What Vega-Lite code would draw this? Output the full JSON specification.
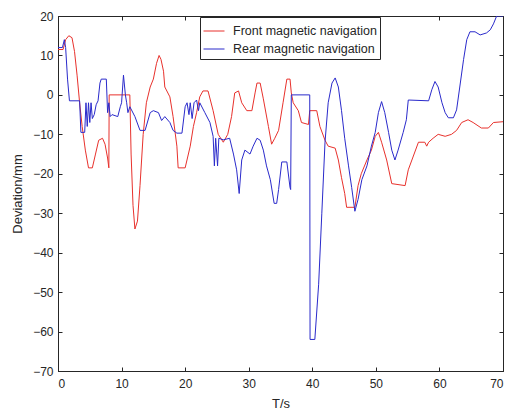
{
  "$schema": "https://vega.github.io/schema/vega-lite/v6.json",
  "width": 445,
  "height": 355,
  "autosize": {"type": "none"},
  "padding": {"left": 58, "top": 16, "right": 7, "bottom": 44},
  "background": "white",
  "config": {
    "view": {"stroke": "#262626", "strokeWidth": 1},
    "font": "Liberation Sans",
    "axis": {
      "grid": false,
      "domainColor": "#262626",
      "tickColor": "#262626",
      "labelColor": "#262626",
      "titleColor": "#262626",
      "labelFont": "Liberation Sans",
      "titleFont": "Liberation Sans",
      "labelFontSize": 12,
      "titleFontSize": 13,
      "titleFontWeight": "normal",
      "tickSize": -4
    }
  },
  "datasets": {
    "curves": [
      {"t":0,"v":11.5,"s":"Front magnetic navigation"},
      {"t":0.8,"v":11.5,"s":"Front magnetic navigation"},
      {"t":1.2,"v":14,"s":"Front magnetic navigation"},
      {"t":1.7,"v":15,"s":"Front magnetic navigation"},
      {"t":2.2,"v":14.5,"s":"Front magnetic navigation"},
      {"t":2.6,"v":11,"s":"Front magnetic navigation"},
      {"t":3.0,"v":5,"s":"Front magnetic navigation"},
      {"t":3.4,"v":-2,"s":"Front magnetic navigation"},
      {"t":3.8,"v":-8,"s":"Front magnetic navigation"},
      {"t":4.3,"v":-14,"s":"Front magnetic navigation"},
      {"t":4.8,"v":-18.5,"s":"Front magnetic navigation"},
      {"t":5.4,"v":-18.5,"s":"Front magnetic navigation"},
      {"t":5.9,"v":-15,"s":"Front magnetic navigation"},
      {"t":6.4,"v":-11.5,"s":"Front magnetic navigation"},
      {"t":7.0,"v":-11,"s":"Front magnetic navigation"},
      {"t":7.4,"v":-12.5,"s":"Front magnetic navigation"},
      {"t":7.8,"v":-16,"s":"Front magnetic navigation"},
      {"t":8.0,"v":-18.5,"s":"Front magnetic navigation"},
      {"t":8.05,"v":0,"s":"Front magnetic navigation"},
      {"t":11.3,"v":0,"s":"Front magnetic navigation"},
      {"t":11.5,"v":-15,"s":"Front magnetic navigation"},
      {"t":11.8,"v":-28,"s":"Front magnetic navigation"},
      {"t":12.1,"v":-34,"s":"Front magnetic navigation"},
      {"t":12.5,"v":-32,"s":"Front magnetic navigation"},
      {"t":12.9,"v":-23,"s":"Front magnetic navigation"},
      {"t":13.4,"v":-10,"s":"Front magnetic navigation"},
      {"t":13.9,"v":-2,"s":"Front magnetic navigation"},
      {"t":14.5,"v":2,"s":"Front magnetic navigation"},
      {"t":15.0,"v":4,"s":"Front magnetic navigation"},
      {"t":15.5,"v":8,"s":"Front magnetic navigation"},
      {"t":15.9,"v":10,"s":"Front magnetic navigation"},
      {"t":16.2,"v":9,"s":"Front magnetic navigation"},
      {"t":16.6,"v":6,"s":"Front magnetic navigation"},
      {"t":16.8,"v":2,"s":"Front magnetic navigation"},
      {"t":17.6,"v":-0.5,"s":"Front magnetic navigation"},
      {"t":18.1,"v":-5.5,"s":"Front magnetic navigation"},
      {"t":18.7,"v":-13,"s":"Front magnetic navigation"},
      {"t":18.9,"v":-18.5,"s":"Front magnetic navigation"},
      {"t":20.0,"v":-18.5,"s":"Front magnetic navigation"},
      {"t":20.8,"v":-13,"s":"Front magnetic navigation"},
      {"t":21.3,"v":-8,"s":"Front magnetic navigation"},
      {"t":21.8,"v":-4.5,"s":"Front magnetic navigation"},
      {"t":22.3,"v":-0.5,"s":"Front magnetic navigation"},
      {"t":22.8,"v":1,"s":"Front magnetic navigation"},
      {"t":23.6,"v":1,"s":"Front magnetic navigation"},
      {"t":24.4,"v":-4,"s":"Front magnetic navigation"},
      {"t":25.2,"v":-10,"s":"Front magnetic navigation"},
      {"t":26.0,"v":-12,"s":"Front magnetic navigation"},
      {"t":26.7,"v":-10,"s":"Front magnetic navigation"},
      {"t":27.3,"v":-5.5,"s":"Front magnetic navigation"},
      {"t":27.8,"v":0.5,"s":"Front magnetic navigation"},
      {"t":28.4,"v":1,"s":"Front magnetic navigation"},
      {"t":28.9,"v":-2,"s":"Front magnetic navigation"},
      {"t":29.7,"v":-4,"s":"Front magnetic navigation"},
      {"t":30.5,"v":-4,"s":"Front magnetic navigation"},
      {"t":31.0,"v":0.5,"s":"Front magnetic navigation"},
      {"t":31.3,"v":3,"s":"Front magnetic navigation"},
      {"t":31.8,"v":3,"s":"Front magnetic navigation"},
      {"t":32.3,"v":-1,"s":"Front magnetic navigation"},
      {"t":33.1,"v":-8,"s":"Front magnetic navigation"},
      {"t":33.6,"v":-12.5,"s":"Front magnetic navigation"},
      {"t":34.1,"v":-11,"s":"Front magnetic navigation"},
      {"t":34.7,"v":-9,"s":"Front magnetic navigation"},
      {"t":35.4,"v":-2,"s":"Front magnetic navigation"},
      {"t":36.0,"v":4,"s":"Front magnetic navigation"},
      {"t":36.5,"v":4,"s":"Front magnetic navigation"},
      {"t":36.7,"v":0.5,"s":"Front magnetic navigation"},
      {"t":37.0,"v":-2,"s":"Front magnetic navigation"},
      {"t":37.8,"v":-4,"s":"Front magnetic navigation"},
      {"t":38.3,"v":-7,"s":"Front magnetic navigation"},
      {"t":39.4,"v":-7.5,"s":"Front magnetic navigation"},
      {"t":39.6,"v":-4,"s":"Front magnetic navigation"},
      {"t":40.7,"v":-4,"s":"Front magnetic navigation"},
      {"t":41.2,"v":-8,"s":"Front magnetic navigation"},
      {"t":42.0,"v":-11.5,"s":"Front magnetic navigation"},
      {"t":42.5,"v":-13,"s":"Front magnetic navigation"},
      {"t":43.6,"v":-13.5,"s":"Front magnetic navigation"},
      {"t":44.1,"v":-16.5,"s":"Front magnetic navigation"},
      {"t":44.6,"v":-21,"s":"Front magnetic navigation"},
      {"t":45.1,"v":-25,"s":"Front magnetic navigation"},
      {"t":45.4,"v":-28.5,"s":"Front magnetic navigation"},
      {"t":46.7,"v":-28.5,"s":"Front magnetic navigation"},
      {"t":47.2,"v":-23,"s":"Front magnetic navigation"},
      {"t":47.7,"v":-20,"s":"Front magnetic navigation"},
      {"t":48.6,"v":-16.5,"s":"Front magnetic navigation"},
      {"t":49.3,"v":-14,"s":"Front magnetic navigation"},
      {"t":49.9,"v":-10.5,"s":"Front magnetic navigation"},
      {"t":50.4,"v":-9.5,"s":"Front magnetic navigation"},
      {"t":50.9,"v":-12,"s":"Front magnetic navigation"},
      {"t":51.7,"v":-16.5,"s":"Front magnetic navigation"},
      {"t":52.5,"v":-22.5,"s":"Front magnetic navigation"},
      {"t":54.6,"v":-23,"s":"Front magnetic navigation"},
      {"t":55.1,"v":-19,"s":"Front magnetic navigation"},
      {"t":55.9,"v":-15.5,"s":"Front magnetic navigation"},
      {"t":56.7,"v":-12,"s":"Front magnetic navigation"},
      {"t":57.7,"v":-12,"s":"Front magnetic navigation"},
      {"t":58.0,"v":-13,"s":"Front magnetic navigation"},
      {"t":58.3,"v":-12,"s":"Front magnetic navigation"},
      {"t":59.0,"v":-11,"s":"Front magnetic navigation"},
      {"t":59.8,"v":-10,"s":"Front magnetic navigation"},
      {"t":60.9,"v":-10.5,"s":"Front magnetic navigation"},
      {"t":61.9,"v":-10,"s":"Front magnetic navigation"},
      {"t":62.7,"v":-9,"s":"Front magnetic navigation"},
      {"t":63.5,"v":-7,"s":"Front magnetic navigation"},
      {"t":64.5,"v":-6.3,"s":"Front magnetic navigation"},
      {"t":65.3,"v":-7,"s":"Front magnetic navigation"},
      {"t":66.6,"v":-8.4,"s":"Front magnetic navigation"},
      {"t":67.7,"v":-8.4,"s":"Front magnetic navigation"},
      {"t":68.5,"v":-7,"s":"Front magnetic navigation"},
      {"t":70,"v":-6.8,"s":"Front magnetic navigation"},

      {"t":0,"v":12,"s":"Rear magnetic navigation"},
      {"t":0.7,"v":12,"s":"Rear magnetic navigation"},
      {"t":1.0,"v":14,"s":"Rear magnetic navigation"},
      {"t":1.2,"v":12,"s":"Rear magnetic navigation"},
      {"t":1.5,"v":4,"s":"Rear magnetic navigation"},
      {"t":1.8,"v":-1.5,"s":"Rear magnetic navigation"},
      {"t":3.4,"v":-1.5,"s":"Rear magnetic navigation"},
      {"t":3.6,"v":-9.5,"s":"Rear magnetic navigation"},
      {"t":4.2,"v":-9.5,"s":"Rear magnetic navigation"},
      {"t":4.4,"v":-2,"s":"Rear magnetic navigation"},
      {"t":4.6,"v":-8,"s":"Rear magnetic navigation"},
      {"t":4.8,"v":-2,"s":"Rear magnetic navigation"},
      {"t":5.0,"v":-7,"s":"Rear magnetic navigation"},
      {"t":5.2,"v":-2,"s":"Rear magnetic navigation"},
      {"t":5.4,"v":-6,"s":"Rear magnetic navigation"},
      {"t":5.7,"v":-5,"s":"Rear magnetic navigation"},
      {"t":6.0,"v":-2.5,"s":"Rear magnetic navigation"},
      {"t":6.3,"v":-1.5,"s":"Rear magnetic navigation"},
      {"t":6.6,"v":3,"s":"Rear magnetic navigation"},
      {"t":6.8,"v":4,"s":"Rear magnetic navigation"},
      {"t":7.6,"v":4,"s":"Rear magnetic navigation"},
      {"t":7.8,"v":-4.5,"s":"Rear magnetic navigation"},
      {"t":8.0,"v":-2,"s":"Rear magnetic navigation"},
      {"t":8.2,"v":-5.5,"s":"Rear magnetic navigation"},
      {"t":8.5,"v":-5,"s":"Rear magnetic navigation"},
      {"t":9.4,"v":-5.5,"s":"Rear magnetic navigation"},
      {"t":9.8,"v":-3,"s":"Rear magnetic navigation"},
      {"t":10.0,"v":-2,"s":"Rear magnetic navigation"},
      {"t":10.3,"v":5,"s":"Rear magnetic navigation"},
      {"t":10.6,"v":0,"s":"Rear magnetic navigation"},
      {"t":10.8,"v":-2,"s":"Rear magnetic navigation"},
      {"t":11.0,"v":-4.5,"s":"Rear magnetic navigation"},
      {"t":11.3,"v":-3,"s":"Rear magnetic navigation"},
      {"t":12.1,"v":-5.5,"s":"Rear magnetic navigation"},
      {"t":12.9,"v":-9,"s":"Rear magnetic navigation"},
      {"t":13.7,"v":-9,"s":"Rear magnetic navigation"},
      {"t":14.5,"v":-4.5,"s":"Rear magnetic navigation"},
      {"t":15.0,"v":-4,"s":"Rear magnetic navigation"},
      {"t":15.8,"v":-4.5,"s":"Rear magnetic navigation"},
      {"t":16.3,"v":-6.5,"s":"Rear magnetic navigation"},
      {"t":16.8,"v":-5.5,"s":"Rear magnetic navigation"},
      {"t":17.6,"v":-7,"s":"Rear magnetic navigation"},
      {"t":18.1,"v":-9,"s":"Rear magnetic navigation"},
      {"t":18.7,"v":-9.7,"s":"Rear magnetic navigation"},
      {"t":19.5,"v":-9.7,"s":"Rear magnetic navigation"},
      {"t":20.0,"v":-3,"s":"Rear magnetic navigation"},
      {"t":20.3,"v":-2,"s":"Rear magnetic navigation"},
      {"t":20.6,"v":-5,"s":"Rear magnetic navigation"},
      {"t":20.8,"v":-2,"s":"Rear magnetic navigation"},
      {"t":21.1,"v":-6,"s":"Rear magnetic navigation"},
      {"t":21.4,"v":-2,"s":"Rear magnetic navigation"},
      {"t":21.8,"v":-1.3,"s":"Rear magnetic navigation"},
      {"t":22.1,"v":-4,"s":"Rear magnetic navigation"},
      {"t":22.3,"v":-2,"s":"Rear magnetic navigation"},
      {"t":23.1,"v":-4.5,"s":"Rear magnetic navigation"},
      {"t":23.9,"v":-7,"s":"Rear magnetic navigation"},
      {"t":24.4,"v":-10.5,"s":"Rear magnetic navigation"},
      {"t":24.6,"v":-18,"s":"Rear magnetic navigation"},
      {"t":24.8,"v":-11,"s":"Rear magnetic navigation"},
      {"t":25.1,"v":-18,"s":"Rear magnetic navigation"},
      {"t":25.3,"v":-11,"s":"Rear magnetic navigation"},
      {"t":26.0,"v":-11.4,"s":"Rear magnetic navigation"},
      {"t":27.0,"v":-11,"s":"Rear magnetic navigation"},
      {"t":27.6,"v":-15,"s":"Rear magnetic navigation"},
      {"t":28.1,"v":-19,"s":"Rear magnetic navigation"},
      {"t":28.5,"v":-25,"s":"Rear magnetic navigation"},
      {"t":28.9,"v":-16.5,"s":"Rear magnetic navigation"},
      {"t":29.4,"v":-14,"s":"Rear magnetic navigation"},
      {"t":30.2,"v":-15,"s":"Rear magnetic navigation"},
      {"t":30.7,"v":-13,"s":"Rear magnetic navigation"},
      {"t":31.3,"v":-11,"s":"Rear magnetic navigation"},
      {"t":31.8,"v":-11.5,"s":"Rear magnetic navigation"},
      {"t":32.3,"v":-14,"s":"Rear magnetic navigation"},
      {"t":32.8,"v":-18,"s":"Rear magnetic navigation"},
      {"t":33.4,"v":-21.5,"s":"Rear magnetic navigation"},
      {"t":34.0,"v":-27.5,"s":"Rear magnetic navigation"},
      {"t":34.4,"v":-27.5,"s":"Rear magnetic navigation"},
      {"t":34.7,"v":-24,"s":"Rear magnetic navigation"},
      {"t":35.2,"v":-17,"s":"Rear magnetic navigation"},
      {"t":36.0,"v":-17,"s":"Rear magnetic navigation"},
      {"t":36.5,"v":-23.5,"s":"Rear magnetic navigation"},
      {"t":36.6,"v":-24,"s":"Rear magnetic navigation"},
      {"t":36.7,"v":0,"s":"Rear magnetic navigation"},
      {"t":39.6,"v":0,"s":"Rear magnetic navigation"},
      {"t":39.65,"v":-62,"s":"Rear magnetic navigation"},
      {"t":40.4,"v":-62,"s":"Rear magnetic navigation"},
      {"t":41.0,"v":-48,"s":"Rear magnetic navigation"},
      {"t":41.5,"v":-30,"s":"Rear magnetic navigation"},
      {"t":42.0,"v":-12,"s":"Rear magnetic navigation"},
      {"t":42.5,"v":-2,"s":"Rear magnetic navigation"},
      {"t":43.1,"v":3,"s":"Rear magnetic navigation"},
      {"t":43.6,"v":4.3,"s":"Rear magnetic navigation"},
      {"t":44.1,"v":2,"s":"Rear magnetic navigation"},
      {"t":44.6,"v":-4,"s":"Rear magnetic navigation"},
      {"t":45.1,"v":-11,"s":"Rear magnetic navigation"},
      {"t":45.7,"v":-18,"s":"Rear magnetic navigation"},
      {"t":46.2,"v":-23.5,"s":"Rear magnetic navigation"},
      {"t":46.7,"v":-29.5,"s":"Rear magnetic navigation"},
      {"t":47.2,"v":-26.5,"s":"Rear magnetic navigation"},
      {"t":47.8,"v":-21.5,"s":"Rear magnetic navigation"},
      {"t":48.6,"v":-18,"s":"Rear magnetic navigation"},
      {"t":49.3,"v":-13,"s":"Rear magnetic navigation"},
      {"t":49.9,"v":-9.5,"s":"Rear magnetic navigation"},
      {"t":50.4,"v":-4.5,"s":"Rear magnetic navigation"},
      {"t":50.9,"v":-1.7,"s":"Rear magnetic navigation"},
      {"t":51.4,"v":-4.5,"s":"Rear magnetic navigation"},
      {"t":52.0,"v":-9.5,"s":"Rear magnetic navigation"},
      {"t":52.5,"v":-14,"s":"Rear magnetic navigation"},
      {"t":53.0,"v":-16.5,"s":"Rear magnetic navigation"},
      {"t":53.5,"v":-14,"s":"Rear magnetic navigation"},
      {"t":54.3,"v":-9.5,"s":"Rear magnetic navigation"},
      {"t":54.8,"v":-6.3,"s":"Rear magnetic navigation"},
      {"t":55.1,"v":-1.3,"s":"Rear magnetic navigation"},
      {"t":58.3,"v":-1.5,"s":"Rear magnetic navigation"},
      {"t":58.8,"v":1.3,"s":"Rear magnetic navigation"},
      {"t":59.3,"v":3.4,"s":"Rear magnetic navigation"},
      {"t":59.8,"v":2,"s":"Rear magnetic navigation"},
      {"t":60.4,"v":-2,"s":"Rear magnetic navigation"},
      {"t":60.9,"v":-4.5,"s":"Rear magnetic navigation"},
      {"t":61.4,"v":-5.8,"s":"Rear magnetic navigation"},
      {"t":62.2,"v":-5.8,"s":"Rear magnetic navigation"},
      {"t":62.7,"v":-3.8,"s":"Rear magnetic navigation"},
      {"t":63.2,"v":2,"s":"Rear magnetic navigation"},
      {"t":63.8,"v":9,"s":"Rear magnetic navigation"},
      {"t":64.3,"v":14,"s":"Rear magnetic navigation"},
      {"t":64.8,"v":16,"s":"Rear magnetic navigation"},
      {"t":65.6,"v":16,"s":"Rear magnetic navigation"},
      {"t":66.4,"v":15.2,"s":"Rear magnetic navigation"},
      {"t":67.4,"v":15.7,"s":"Rear magnetic navigation"},
      {"t":68.0,"v":16.5,"s":"Rear magnetic navigation"},
      {"t":68.5,"v":18,"s":"Rear magnetic navigation"},
      {"t":69.0,"v":20,"s":"Rear magnetic navigation"},
      {"t":70,"v":20,"s":"Rear magnetic navigation"}
    ]
  },
  "layer": [
    {
      "data": {"name": "curves"},
      "mark": {"type": "line", "strokeWidth": 1, "clip": true},
      "encoding": {
        "x": {
          "field": "t", "type": "quantitative",
          "scale": {"domain": [0, 70], "nice": false, "zero": false},
          "axis": {"orient": "bottom", "values": [0,10,20,30,40,50,60,70], "title": "T/s", "labelPadding": 11, "titlePadding": 8}
        },
        "y": {
          "field": "v", "type": "quantitative",
          "scale": {"domain": [-70, 20], "nice": false, "zero": false},
          "axis": {"orient": "left", "values": [-70,-60,-50,-40,-30,-20,-10,0,10,20], "title": "Deviation/mm", "labelPadding": 9, "titlePadding": 8}
        },
        "color": {
          "field": "s", "type": "nominal",
          "scale": {"domain": ["Front magnetic navigation", "Rear magnetic navigation"], "range": ["#e8312c", "#2a2acb"]},
          "legend": {
            "title": null,
            "orient": "none",
            "legendX": 142,
            "legendY": 1,
            "symbolType": "stroke",
            "symbolSize": 441,
            "symbolStrokeWidth": 1,
            "labelFont": "Liberation Sans",
            "labelFontSize": 12.5,
            "labelColor": "#262626",
            "strokeColor": "#262626",
            "fillColor": "white",
            "padding": 3,
            "rowPadding": -5,
            "labelOffset": 8
          }
        }
      }
    },
    {
      "data": {"values": [{"t": 0, "v": 0}]},
      "mark": {"type": "point", "opacity": 0},
      "encoding": {
        "x": {"field": "t", "type": "quantitative", "axis": {"orient": "top", "values": [0,10,20,30,40,50,60,70], "labels": false, "title": null, "domain": false}},
        "y": {"field": "v", "type": "quantitative", "axis": {"orient": "right", "values": [-70,-60,-50,-40,-30,-20,-10,0,10,20], "labels": false, "title": null, "domain": false}}
      }
    }
  ],
  "resolve": {"axis": {"x": "independent", "y": "independent"}}
}
